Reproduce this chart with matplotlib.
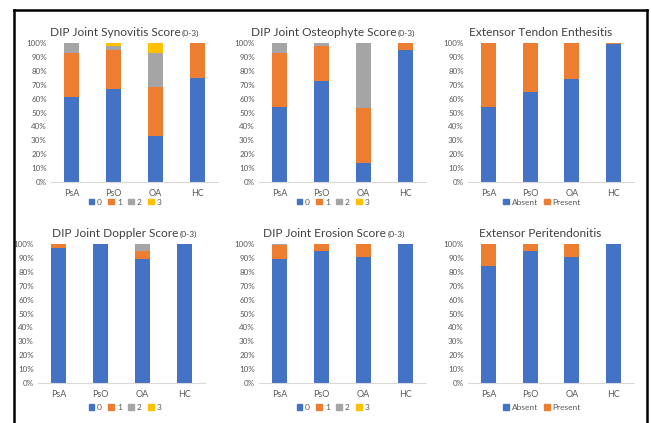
import numpy as np
import matplotlib
matplotlib.use("Agg")
import matplotlib.pyplot as plt
from matplotlib.lines import Line2D
from matplotlib.patches import Patch

groups = ["PsA", "PsO", "OA", "HC"]

# percentage of joints per score, stacked bottom to top
synovitis = {"0": [61, 67, 33, 75], "1": [32, 28, 35, 25], "2": [7, 3, 25, 0], "3": [0, 2, 7, 0]}
osteophyte = {"0": [54, 73, 14, 95], "1": [39, 25, 39, 5], "2": [7, 2, 47, 0], "3": [0, 0, 0, 0]}
enthesitis = {"Absent": [54, 65, 74, 99], "Present": [46, 35, 26, 1]}
doppler = {"0": [97, 100, 89, 100], "1": [3, 0, 6, 0], "2": [0, 0, 5, 0], "3": [0, 0, 0, 0]}
erosion = {"0": [89, 95, 91, 100], "1": [10, 5, 9, 0], "2": [1, 0, 0, 0], "3": [0, 0, 0, 0]}
peritendonitis = {"Absent": [84, 95, 91, 100], "Present": [16, 5, 9, 0]}

colors = ["#4472C4", "#ED7D31", "#A5A5A5", "#FFC000"]
text_col = "#595959"

W, H = 651, 423
fig = plt.figure(figsize=(W / 100, H / 100), dpi=100)
plt.rcParams['font.family'] = ['Lato', 'DejaVu Sans']


def fx(px):
    return px / W


def fy(py):
    return 1 - py / H


def panel(left, top, right, bottom, data, title, sub, title_x, title_y, leg_x, leg_y):
    ax = fig.add_axes([fx(left), fy(bottom), fx(right - left), (bottom - top) / H])
    x = np.arange(len(groups))
    base = np.zeros(len(groups))
    handles = []
    for i, (name, vals) in enumerate(data.items()):
        vals = np.array(vals, dtype=float)
        ax.bar(x, vals, 0.36, bottom=base, color=colors[i], linewidth=0)
        base += vals
        handles.append(Patch(color=colors[i], label=name))
    ax.set_xlim(-0.5, 3.5)
    ax.set_ylim(0, 100)
    ax.set_yticks(np.arange(0, 101, 10))
    ax.set_yticklabels([f"{v}%" for v in range(0, 101, 10)])
    ax.set_xticks(x)
    ax.set_xticklabels(groups)
    ax.tick_params(axis='y', length=0, labelsize=5.8, colors=text_col, pad=3)
    ax.tick_params(axis='x', length=0, labelsize=6.5, colors=text_col, pad=5)
    for s in ["left", "right", "top"]:
        ax.spines[s].set_visible(False)
    ax.spines["bottom"].set_color("#D9D9D9")
    ax.spines["bottom"].set_linewidth(0.8)

    t = fig.text(fx(title_x), fy(title_y), title, fontsize=8.6, color="#404040",
                 ha="left", va="center")
    if sub:
        fig.canvas.draw()
        bb = t.get_window_extent()
        fig.text(bb.x1 / W + 0.002, fy(title_y + 1), sub, fontsize=6, color="#404040",
                 ha="left", va="center")

    fig.legend(handles=handles, loc="center", bbox_to_anchor=(fx(leg_x), fy(leg_y)),
               ncol=len(handles), frameon=False, fontsize=6, handlelength=0.7,
               handleheight=0.7, handletextpad=0.3, columnspacing=0.8, borderpad=0,
               labelcolor=text_col)
    return ax


panel(51, 43, 218, 182, synovitis, "DIP Joint Synovitis Score", "(0-3)", 50, 32, 125, 202)
panel(259, 43, 426, 182, osteophyte, "DIP Joint Osteophyte Score", "(0-3)", 251, 32, 333, 202)
panel(468, 43, 634, 182, enthesitis, "Extensor Tendon Enthesitis", None, 469, 32, 542, 202)
panel(38, 244, 205, 383, doppler, "DIP Joint Doppler Score", "(0-3)", 52, 233, 125, 407)
panel(259, 244, 426, 383, erosion, "DIP Joint Erosion Score", "(0-3)", 263, 233, 333, 407)
panel(468, 244, 634, 383, peritendonitis, "Extensor Peritendonitis", None, 479, 233, 542, 407)

# outer frame
fig.add_artist(Line2D([fx(14), fx(14)], [fy(10), 0], color="black", lw=1.8))
fig.add_artist(Line2D([fx(14), fx(647)], [fy(10), fy(10)], color="black", lw=1.8))
fig.add_artist(Line2D([fx(647), fx(647)], [fy(10), 0], color="black", lw=1.8))

fig.savefig("out.png", dpi=100)
